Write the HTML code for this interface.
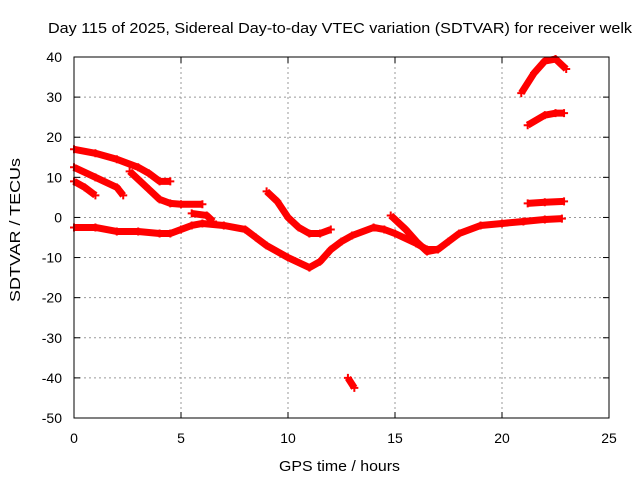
<!DOCTYPE html>
<html><head><meta charset="utf-8"><style>
body{margin:0;background:#fff}
svg{display:block;font-family:"Liberation Sans",sans-serif}
</style></head><body>
<svg id="chart" width="640" height="480" viewBox="0 0 640 480">
<rect width="640" height="480" fill="#fff"/>
<text x="48" y="33" font-size="15" textLength="584" lengthAdjust="spacingAndGlyphs">Day 115 of 2025, Sidereal Day-to-day VTEC variation (SDTVAR) for receiver welk</text>
<g id="grid"></g>
<g id="series"></g>
<rect x="74" y="57" width="535" height="361" fill="none" stroke="#000" stroke-width="1"/>
<g id="ticks"></g>
<text x="279" y="471" font-size="15" textLength="121" lengthAdjust="spacingAndGlyphs">GPS time / hours</text>
<text transform="translate(20,302) rotate(-90)" font-size="15" textLength="144" lengthAdjust="spacingAndGlyphs">SDTVAR / TECUs</text>
</svg>
<script>
const xTicks=[0,5,10,15,20,25];
const yTicks=[40,30,20,10,0,-10,-20,-30,-40,-50];
const track1=[[0,-2.5],[1,-2.5],[2,-3.5],[3,-3.5],[4,-4],[4.5,-4],[5,-3],[5.5,-2],[6,-1.5],[7,-2],[8,-3],[8.5,-5],[9,-7],[10,-10],[11,-12.5],[11.5,-11],[12,-8],[12.5,-6],[13,-4.5],[14,-2.5],[14.5,-3],[15,-4],[16,-6.5],[16.5,-8],[17,-8],[17.5,-6],[18,-4],[19,-2],[20,-1.5],[21,-1],[22,-0.5],[22.8,-0.3]];
const track2=[[0,17],[1,16],[2,14.5],[3,12.5],[3.5,11],[4,9],[4.5,9]];
const track3=[[0,12.5],[1,10],[2,7.5],[2.3,5.5]];
const track4=[[0,9],[0.5,7.5],[1,5.5]];
const track5=[[2.6,11.5],[3.5,7],[4,4.5],[4.5,3.5],[5,3.3],[6,3.3]];
const track6=[[5.5,1],[6.2,0.5],[6.5,-1]];
const track7=[[9,6.5],[9.5,4],[10,0],[10.5,-2.5],[11,-4],[11.5,-4],[12,-3]];
const track8=[[14.8,0.5],[15.5,-3],[16,-6],[16.5,-8.5],[17,-8]];
const track9=[[12.8,-40],[13.1,-42.5]];
const track10=[[20.9,31],[21.5,36],[22,39],[22.5,39.5],[23,37]];
const track11=[[21.2,23],[22,25.5],[22.5,26],[22.9,26]];
const track12=[[21.2,3.5],[22,3.8],[22.9,4]];
const tracks=[track1,track2,track3,track4,track5,track6,track7,track8,track9,track10,track11,track12];
const NS="http://www.w3.org/2000/svg";
const X=v=>74+v*(535/25);
const Y=v=>57+(40-v)*(361/90);
const grid=document.getElementById('grid'),ticks=document.getElementById('ticks'),ser=document.getElementById('series');
function mk(tag,attrs,parent){const e=document.createElementNS(NS,tag);for(const k in attrs)e.setAttribute(k,attrs[k]);parent.appendChild(e);return e;}
xTicks.forEach(t=>{
 if(t>0&&t<25){const g=mk('line',{x1:X(t),x2:X(t),y1:57,y2:418,stroke:'#999','stroke-dasharray':'2,3'},grid);
 
 }
 const tx=mk('text',{x:X(t),y:443,'text-anchor':'middle','font-size':14},ticks);tx.textContent=t;
 
 
 mk('line',{x1:X(t),x2:X(t),y1:418,y2:412,stroke:'#000'},ticks);
 mk('line',{x1:X(t),x2:X(t),y1:57,y2:63,stroke:'#000'},ticks);
});
yTicks.forEach(t=>{
 if(t<40&&t>-50){const g=mk('line',{x1:74,x2:609,y1:Y(t),y2:Y(t),stroke:'#999','stroke-dasharray':'2,3'},grid);
 
 }
 const tx=mk('text',{x:62,y:Y(t)+5,'text-anchor':'end','font-size':14},ticks);tx.textContent=t;
 
 
 mk('line',{x1:74,x2:80,y1:Y(t),y2:Y(t),stroke:'#000'},ticks);
 mk('line',{x1:609,x2:603,y1:Y(t),y2:Y(t),stroke:'#000'},ticks);
});
tracks.forEach((tr,i)=>{
 const p=mk('polyline',{points:tr.map(d=>X(d[0])+','+Y(d[1])).join(' '),fill:'none',stroke:'#f00','stroke-width':7,'stroke-linejoin':'round'},ser);
 
 
 tr.forEach(d=>{
  const m=mk('path',{d:`M${X(d[0])-4},${Y(d[1])}h8M${X(d[0])},${Y(d[1])-4}v8`,stroke:'#f00','stroke-width':2},ser);
  
  
 });
});
</script>
</body></html>
